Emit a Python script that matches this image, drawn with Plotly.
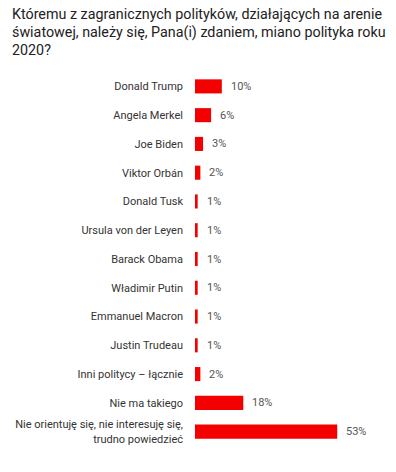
import plotly.graph_objects as go

categories = [
    "Donald Trump", "Angela Merkel", "Joe Biden", "Viktor Orbán", "Donald Tusk",
    "Ursula von der Leyen", "Barack Obama", "Władimir Putin", "Emmanuel Macron",
    "Justin Trudeau", "Inni politycy – łącznie", "Nie ma takiego",
    "Nie orientuję się, nie interesuję się,<br>trudno powiedzieć",
]
values = [10, 6, 3, 2, 1, 1, 1, 1, 1, 1, 2, 18, 53]
value_labels = [f"{v}%" for v in values]

title_lines = [
    "Któremu z zagranicznych polityków, działających na arenie",
    "światowej, należy się, Pana(i) zdaniem, miano polityka roku",
    "2020?",
]

W, H = 396, 472
ML, MR, MT, MB = 195, 40, 72, 26
PW, PH = W - ML - MR, H - MT - MB

fig = go.Figure()
fig.add_trace(go.Bar(
    x=values, y=categories, orientation="h",
    marker=dict(color="#f40000", line=dict(width=0)),
    width=0.49, hoverinfo="skip",
))
for v, c, t in zip(values, categories, value_labels):
    fig.add_annotation(x=v, y=c, text=t, showarrow=False, xanchor="left",
                       xshift=7, font=dict(family="Roboto", size=11, color="#555555"))

for i, line in enumerate(title_lines):
    ypx = 14 + 18 * i
    fig.add_annotation(xref="paper", yref="paper",
                       x=(10 - ML) / PW, y=1 + (MT - ypx) / PH,
                       text=line, showarrow=False, xanchor="left", yanchor="middle",
                       align="left", font=dict(family="Roboto", size=14.3, color="#222222"))

fig.update_layout(
    width=W, height=H,
    margin=dict(l=ML, r=MR, t=MT, b=MB, autoexpand=False),
    paper_bgcolor="white", plot_bgcolor="white",
    showlegend=False,
    font=dict(family="Roboto", size=11, color="#333333"),
    xaxis=dict(range=[0, 60], visible=False, fixedrange=True, automargin=False),
    yaxis=dict(autorange="reversed", showgrid=False, showline=False, zeroline=False,
               ticks="", ticklabelstandoff=11, tickfont=dict(size=11, color="#333333"),
               fixedrange=True, automargin=False),
)
fig.write_html("out.html", config={"displayModeBar": False},
               post_script="document.body.style.margin='0';")
